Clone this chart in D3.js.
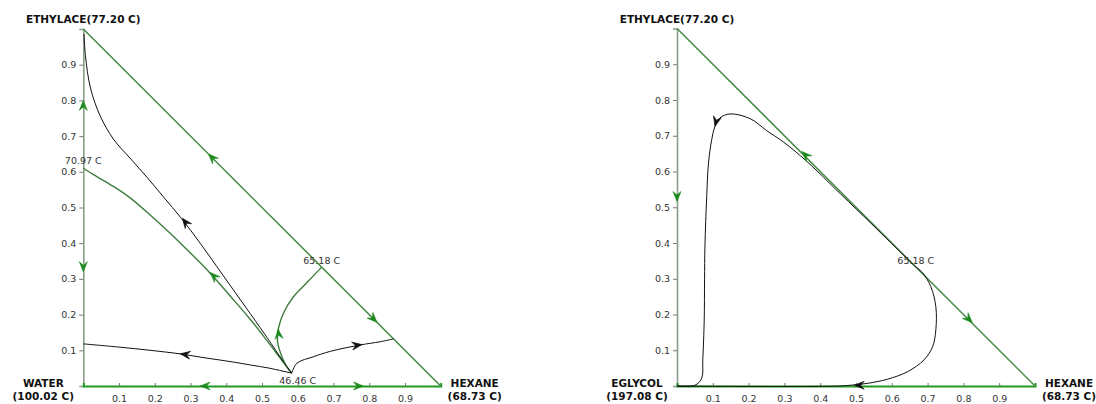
<!DOCTYPE html>
<html><head><meta charset="utf-8">
<script src="https://cdn.jsdelivr.net/npm/d3@7/dist/d3.min.js"></script>
<style>
body{margin:0;background:#fff;}
svg{display:block;}
text{font-family:"DejaVu Sans",Verdana,sans-serif;}
</style></head>
<body>
<svg id="chart" width="1096" height="404"></svg>
<script>
// ---------- data ----------
const tickValues = [0.1,0.2,0.3,0.4,0.5,0.6,0.7,0.8,0.9];

// Left diagram: WATER / HEXANE / ETHYLACE
const leftComponents = ["WATER", "HEXANE", "ETHYLACE"];
const leftBoiling = ["(100.02 C)", "(68.73 C)", "(77.20 C)"];
const leftAzeotropes = [
  {label:"70.97 C", x:0.0, y:0.61},
  {label:"65.18 C", x:0.667, y:0.333},
  {label:"46.46 C", x:0.6, y:0.0}
];
// distillation boundaries (green)
const leftBoundary1 = [[0.583,0.036],[0.56,0.066],[0.514,0.127],[0.467,0.187],[0.411,0.252],[0.355,0.316],[0.299,0.373],[0.243,0.428],[0.187,0.479],[0.131,0.527],[0.084,0.559],[0.037,0.587],[0.0,0.61]];
const leftBoundary2 = [[0.583,0.036],[0.568,0.056],[0.552,0.092],[0.543,0.129],[0.547,0.166],[0.561,0.206],[0.588,0.25],[0.626,0.29],[0.667,0.333]];
// residue curves (black)
const leftCurveA = [[0.583,0.036],[0.56,0.068],[0.514,0.136],[0.467,0.203],[0.42,0.269],[0.374,0.334],[0.327,0.40],[0.275,0.469],[0.224,0.530],[0.178,0.585],[0.131,0.638],[0.084,0.692],[0.047,0.757],[0.02,0.835],[0.006,0.925],[0.002,0.986]];
const leftCurveB = [[0.583,0.036],[0.52,0.05],[0.467,0.059],[0.42,0.067],[0.327,0.081],[0.271,0.09],[0.187,0.1],[0.1,0.109],[0.0,0.118]];
const leftCurveC = [[0.583,0.036],[0.598,0.064],[0.644,0.082],[0.691,0.097],[0.775,0.115],[0.831,0.124],[0.868,0.132]];
// arrows: [x, y, dx, dy] in composition space
const leftGreenArrows = [[0.0,0.80,0,1],[0.0,0.32,0,-1],[0.35,0.65,-1,1],[0.822,0.178,1,-1],[0.327,0.0,-1,0],[0.784,0.0,1,0],[0.355,0.318,-0.056,0.056],[0.545,0.16,-0.004,0.04]];
const leftBlackArrows = [[0.277,0.47,-0.05,0.065],[0.271,0.09,-0.06,0.008],[0.78,0.116,0.06,0.009]];

// Right diagram: EGLYCOL / HEXANE / ETHYLACE
const rightComponents = ["EGLYCOL", "HEXANE", "ETHYLACE"];
const rightBoiling = ["(197.08 C)", "(68.73 C)", "(77.20 C)"];
const rightAzeotropes = [{label:"65.18 C", x:0.667, y:0.333}];
const rightCurveA = [[0.667,0.333],[0.6,0.398],[0.541,0.456],[0.457,0.537],[0.363,0.628],[0.298,0.682],[0.251,0.714],[0.204,0.748],[0.148,0.761],[0.12,0.75],[0.106,0.726],[0.097,0.689],[0.088,0.624],[0.083,0.53],[0.078,0.39],[0.077,0.297],[0.076,0.185],[0.072,0.073],[0.069,0.022],[0.05,0.002],[0.0,0.0]];
const rightCurveB = [[0.667,0.333],[0.685,0.318],[0.709,0.278],[0.723,0.222],[0.723,0.157],[0.714,0.11],[0.69,0.073],[0.644,0.04],[0.588,0.019],[0.536,0.008],[0.503,0.004],[0.45,0.0],[0.0,0.0]];
const rightGreenArrows = [[0.0,0.516,0,-1],[0.349,0.656,-1,1],[0.825,0.177,1,-1]];
const rightBlackArrows = [[0.106,0.726,-0.01,-0.04],[0.495,0.002,-1,0]];

// ---------- drawing ----------
const svg = d3.select("#chart");
const EDGE = "#448a44", AXIS = "#8a9c8a";

function panel(opt){
  const x = d3.scaleLinear().domain([0,1]).range([opt.x0, opt.x1]);
  const y = d3.scaleLinear().domain([0,1]).range([opt.y0, opt.y1]);
  const g = svg.append("g");
  const line = d3.line().x(d=>x(d[0])).y(d=>y(d[1])).curve(d3.curveCatmullRom.alpha(0.5));
  const straight = d3.line().x(d=>x(d[0])).y(d=>y(d[1]));

  // y axis (left edge)
  const ya = g.append("g").attr("transform",`translate(${x(0)},0)`)
    .call(d3.axisLeft(y).tickValues(tickValues).tickFormat(d3.format(".1f")).tickSize(4).tickPadding(3));
  ya.select(".domain").attr("stroke",AXIS).attr("stroke-width",1.6);
  ya.selectAll(".tick line").attr("stroke","#777");
  ya.selectAll(".tick text").attr("font-size","9.5px").attr("fill","#333").attr("font-family","DejaVu Sans");
  // x axis (base)
  const xa = g.append("g").attr("transform",`translate(0,${y(0)})`)
    .call(d3.axisBottom(x).tickValues(tickValues).tickFormat(d3.format(".1f")).tickSize(-3).tickPadding(9));
  xa.select(".domain").attr("stroke",opt.baseColor).attr("stroke-width",2);
  xa.selectAll(".tick line").attr("stroke","#777");
  xa.selectAll(".tick text").attr("font-size","9.5px").attr("fill","#333").attr("font-family","DejaVu Sans");
  // hypotenuse
  g.append("path").attr("d",straight([[0,1],[1,0]])).attr("fill","none").attr("stroke",EDGE).attr("stroke-width",1.5);

  (opt.boundaries||[]).forEach(b=>{
    g.append("path").attr("d",line(b)).attr("fill","none").attr("stroke","#3d7d3d").attr("stroke-width",1.4);
  });
  (opt.curves||[]).forEach(c=>{
    g.append("path").attr("d",line(c)).attr("fill","none").attr("stroke","#111").attr("stroke-width",1);
  });

  const arrowPath = "M0,0 L-10,-4 L-6.5,0 L-10,4 Z";
  function arrows(list, color){
    list.forEach(a=>{
      const px = x(a[0]), py = y(a[1]);
      const ex = x(a[0]+a[2]) - px, ey = y(a[1]+a[3]) - py;
      const ang = Math.atan2(ey, ex)*180/Math.PI;
      g.append("path").attr("d",arrowPath).attr("fill",color).attr("stroke",color).attr("stroke-width",0.6)
        .attr("transform",`translate(${px},${py}) rotate(${ang})`);
    });
  }
  arrows(opt.greenArrows, "#1e8a1e");
  arrows(opt.blackArrows, "#111");

  // azeotrope labels
  opt.azeos.forEach(a=>{
    const dy = a.y===0 ? -2 : (a.x===0 ? -4 : -3);
    g.append("text").attr("x",x(a.x)).attr("y",y(a.y)+dy).attr("text-anchor","middle")
      .attr("font-size","9.5px").attr("fill","#333").text(a.label);
  });

  // component labels
  g.append("text").attr("x",x(0)).attr("y",23).attr("text-anchor","middle")
    .attr("font-size","10.5px").attr("font-weight","bold").attr("fill","#111")
    .text(opt.comps[2]+opt.bps[2]);
  [[opt.comps[0],opt.bps[0],x(0)-40],[opt.comps[1],opt.bps[1],x(1)+34]].forEach(l=>{
    g.append("text").attr("x",l[2]).attr("y",387).attr("text-anchor","middle")
      .attr("font-size","10.5px").attr("font-weight","bold").attr("fill","#111").text(l[0]);
    g.append("text").attr("x",l[2]).attr("y",400).attr("text-anchor","middle")
      .attr("font-size","10.5px").attr("font-weight","bold").attr("fill","#111").text(l[1]);
  });
}

panel({x0:83.3, x1:440.7, y0:386, y1:29, baseColor:"#229a22",
  comps:leftComponents, bps:leftBoiling, azeos:leftAzeotropes,
  boundaries:[leftBoundary1,leftBoundary2], curves:[leftCurveA,leftCurveB,leftCurveC],
  greenArrows:leftGreenArrows, blackArrows:leftBlackArrows});
panel({x0:677, x1:1035, y0:386, y1:28.5, baseColor:"#229a22",
  comps:rightComponents, bps:rightBoiling, azeos:rightAzeotropes,
  boundaries:[], curves:[rightCurveA,rightCurveB],
  greenArrows:rightGreenArrows, blackArrows:rightBlackArrows});
</script>
</body></html>
